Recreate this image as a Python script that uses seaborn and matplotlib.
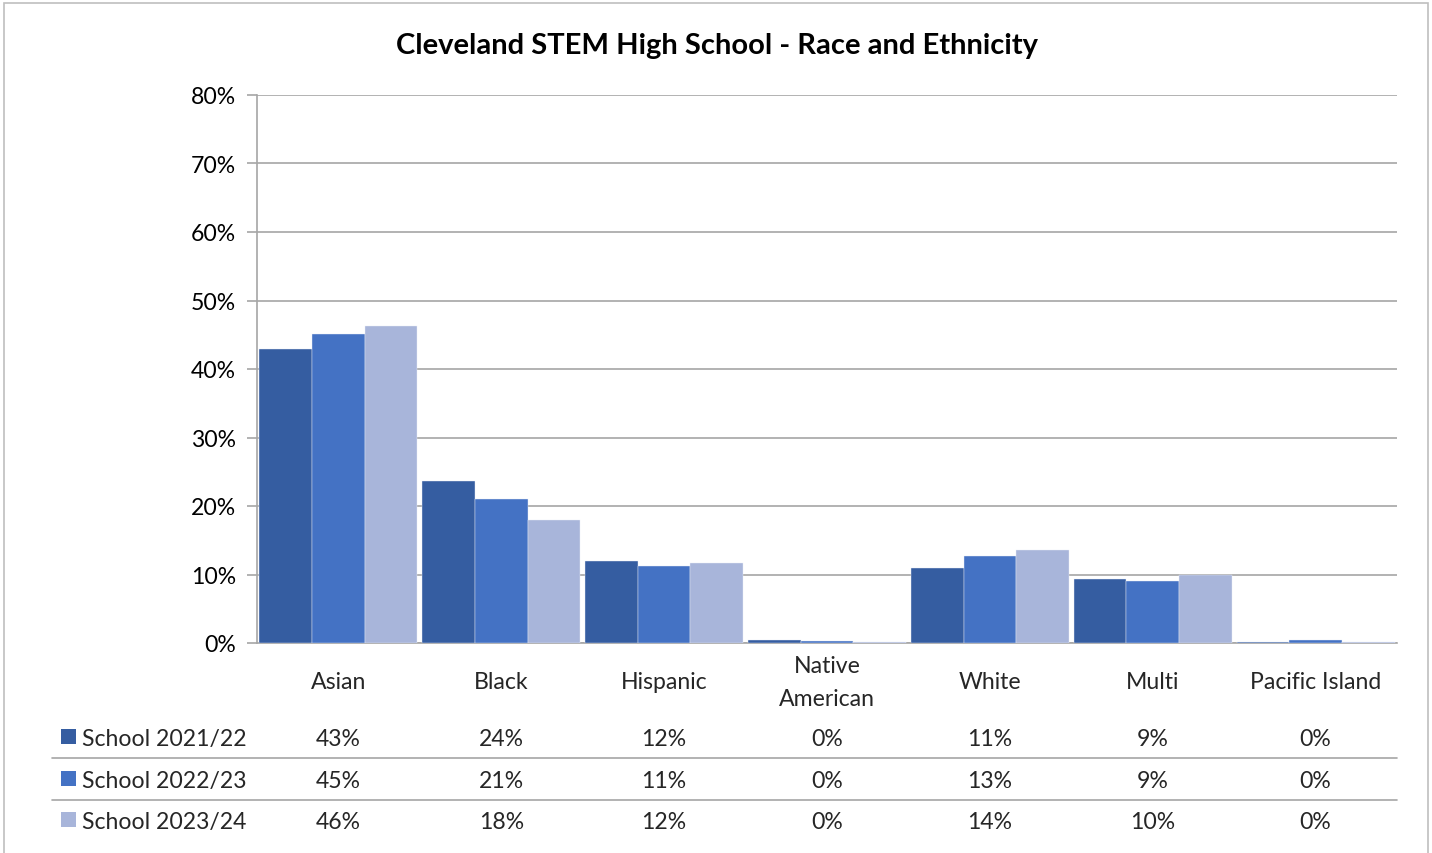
import numpy as np
import pandas as pd
import seaborn as sns
from matplotlib import pyplot as plt
from matplotlib import transforms
from matplotlib.patches import Rectangle
from matplotlib.lines import Line2D

# Data (percent of students)
categories = ['Asian', 'Black', 'Hispanic', 'Native\nAmerican', 'White', 'Multi', 'Pacific Island']
years = ['School 2021/22', 'School 2022/23', 'School 2023/24']
y2122 = [42.9, 23.6, 12.0, 0.5, 10.9, 9.4, 0.2]
y2223 = [45.1, 21.0, 11.2, 0.3, 12.7, 9.1, 0.4]
y2324 = [46.3, 18.0, 11.7, 0.2, 13.6, 9.9, 0.2]
colors = ['#355DA1', '#4472C4', '#A8B5DA']

df = pd.DataFrame({
    'category': categories * 3,
    'year': np.repeat(years, len(categories)),
    'pct': y2122 + y2223 + y2324,
})

sns.set_style('white')
plt.rcParams['font.family'] = ['Lato', 'DejaVu Sans']

W, H = 1432, 854
fig = plt.figure(figsize=(W / 100, H / 100), dpi=100)
ax = fig.add_axes([257 / W, 1 - 644 / H, (1397 - 257) / W, (644 - 96) / H])

sns.barplot(data=df, x='category', y='pct', hue='year', palette=colors,
            saturation=1, width=0.97, ax=ax, edgecolor='#E8ECF6', linewidth=0.3,
            legend=False, zorder=3)

grid_c = '#A6A6A6'
fs = 16.6
ax.set_ylim(0, 80)
ax.set_xlim(-0.5, len(categories) - 0.5)
ax.set_yticks(range(0, 81, 10))
ax.set_yticklabels([f'{v}%' for v in range(0, 81, 10)], fontsize=fs, color='black')
ax.yaxis.grid(True, color=grid_c, linewidth=1.2, zorder=0)
ax.tick_params(axis='y', length=7, color=grid_c, width=1.2, pad=8, left=True)
ax.set_xticks([])
ax.set_xlabel('')
ax.set_ylabel('')
for s in ['top', 'right']:
    ax.spines[s].set_visible(False)
ax.spines['left'].set_color(grid_c)
ax.spines['left'].set_linewidth(1.2)
ax.spines['bottom'].set_color(grid_c)
ax.spines['bottom'].set_linewidth(1.2)
ax.set_axisbelow(True)

fig.text(717 / W, 1 - 46 / H, 'Cleveland STEM High School - Race and Ethnicity',
         ha='center', va='center', fontsize=21, fontweight='bold', color='black')

# Data table below the chart
trans = transforms.blended_transform_factory(ax.transData, fig.transFigure)
for i, cat in enumerate(categories):
    ax.text(i, 1 - 683 / H, cat, transform=trans, ha='center', va='center',
            fontsize=fs, linespacing=1.7, clip_on=False)

row_y = [740, 782, 823]
for yr, vals, col, ry in zip(years, [y2122, y2223, y2324], colors, row_y):
    fig.patches.append(Rectangle((61 / W, 1 - (ry + 5) / H), 15 / W, 15 / H,
                                 transform=fig.transFigure, facecolor=col,
                                 edgecolor='none'))
    fig.text(82 / W, 1 - ry / H, yr, ha='left', va='center', fontsize=fs)
    for i, v in enumerate(vals):
        ax.text(i, 1 - ry / H, f'{round(v):.0f}%', transform=trans,
                ha='center', va='center', fontsize=fs, clip_on=False)

for ly in [759, 801]:
    fig.lines.append(Line2D([52 / W, 1397 / W], [1 - ly / H, 1 - ly / H],
                            transform=fig.transFigure, color=grid_c, linewidth=1.2))

# Chart border
fig.patches.append(Rectangle((4 / W, -0.01), 1424 / W, 1 - 4 / H + 0.01,
                             transform=fig.transFigure, facecolor='none',
                             edgecolor='#BFBFBF', linewidth=1.2))

fig.savefig('out.png', dpi=100)
